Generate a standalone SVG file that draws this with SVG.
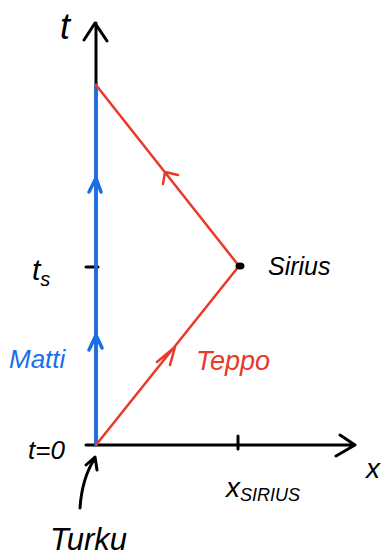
<svg xmlns="http://www.w3.org/2000/svg" width="392" height="557" viewBox="0 0 392 557">
<style>
.ax{stroke:#000;stroke-width:3;fill:none;stroke-linecap:round;stroke-linejoin:round}
.bl{stroke:#1a6fe8;stroke-width:3.5;fill:none;stroke-linecap:round;stroke-linejoin:round}
.rd{stroke:#e8392a;stroke-width:2.5;fill:none;stroke-linecap:round;stroke-linejoin:round}
.t{font-family:"Liberation Sans",sans-serif;font-style:italic;fill:#000}
</style>
<rect width="392" height="557" fill="#fff"/>
<g id="connectors">
<path class="ax" d="M96,445 V23 M84,40 L95,23 L107,41"/>
<path class="ax" d="M86,445 H354 M340,435 L355,445 L336,456"/>
<path class="ax" d="M238,436 V449 M86,267 H98"/>
<path class="bl" d="M96,445 V85 M89,192 L96,178 L101,192 M89,350 L96,335 L102,348"/>
<path class="rd" d="M96,445 L239,266 L96,85 M157,362 L175,347 L170,365 M163,184 L165,172 L178,175"/>
<path class="ax" d="M80,508 Q82,478 95,458 M86,465 L95,457 L97,470"/>
</g>
<g id="sirius-dot"><ellipse cx="240" cy="266" rx="4.5" ry="3.5" fill="#000"/></g>
<g id="labels">
<text class="t" x="60" y="39" font-size="36">t</text>
<text class="t" x="32" y="280" font-size="30">t<tspan font-size="20" dy="6">s</tspan></text>
<text class="t" x="9" y="368" font-size="26" style="fill:#1a6fe8">Matti</text>
<text class="t" x="196" y="370" font-size="27" style="fill:#e8392a">Teppo</text>
<text class="t" x="268" y="275" font-size="25">Sirius</text>
<text class="t" x="28" y="459" font-size="26">t=0</text>
<text class="t" x="366" y="478" font-size="28">x</text>
<text class="t" x="226" y="497" font-size="28">x<tspan font-size="18" dy="4">SIRIUS</tspan></text>
<text class="t" x="50" y="550" font-size="31">Turku</text>
</g>
</svg>
